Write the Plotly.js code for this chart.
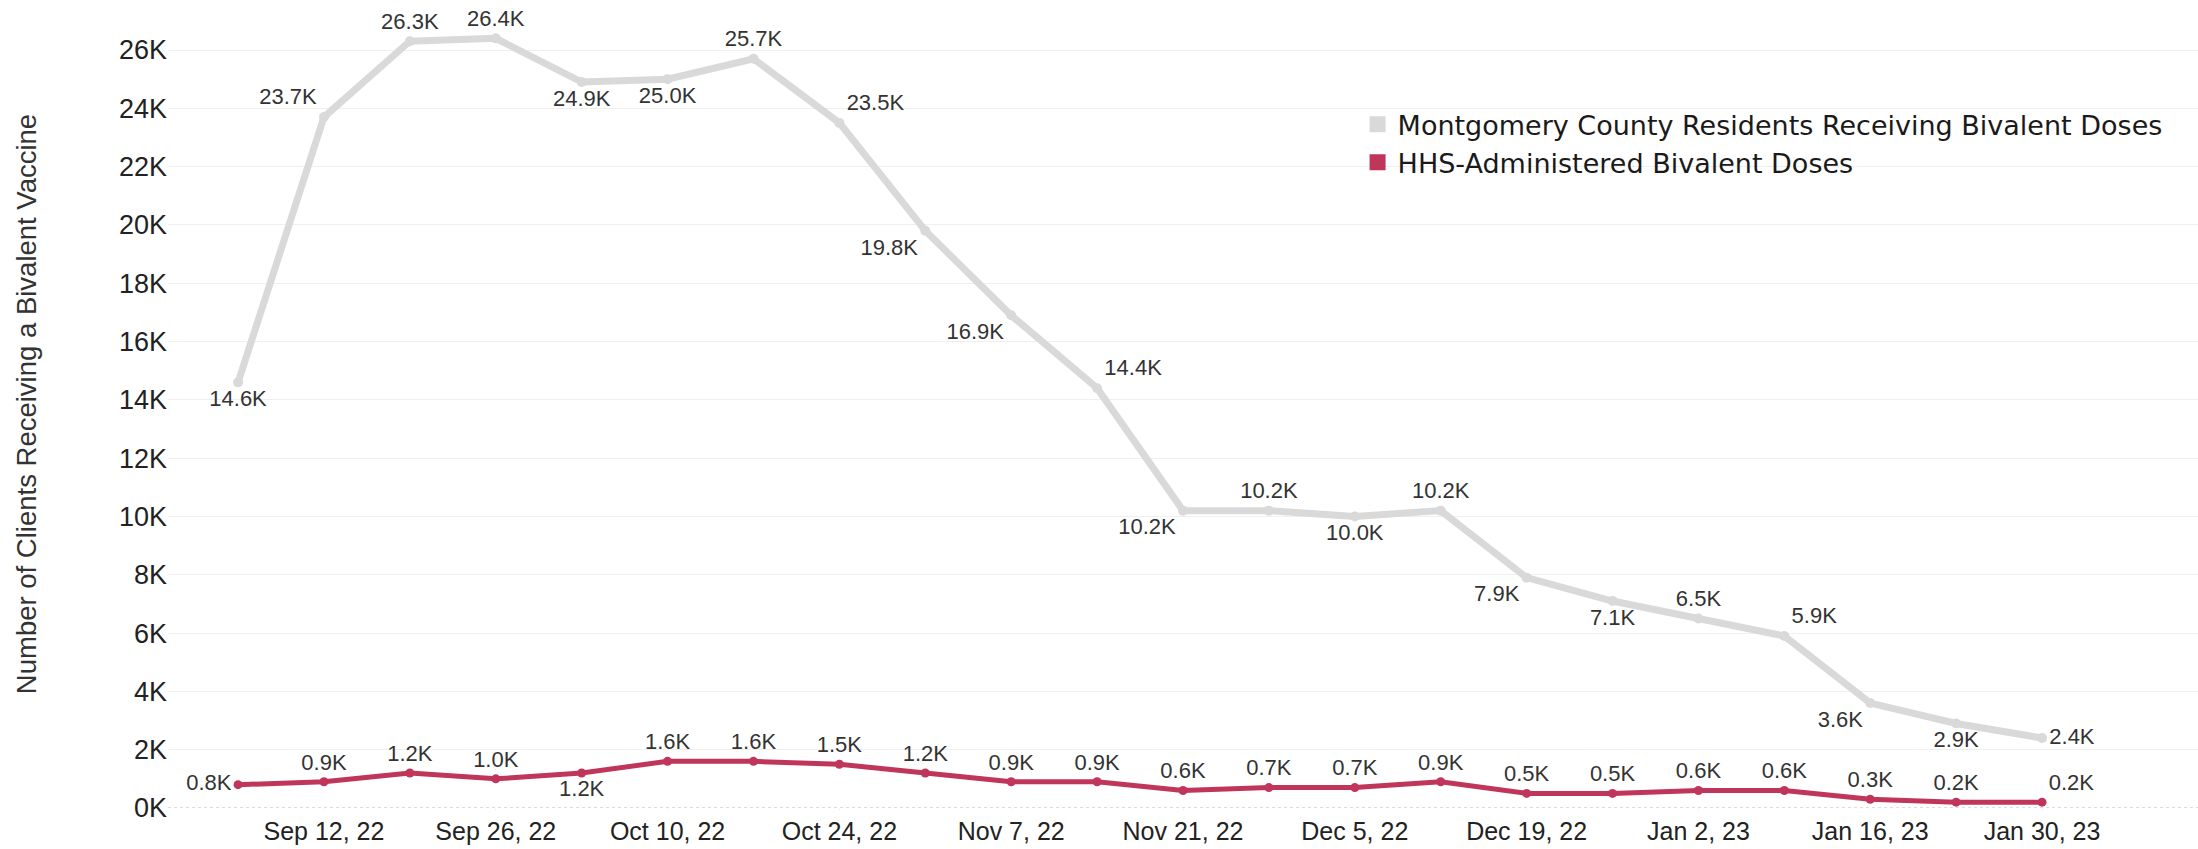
<!DOCTYPE html>
<html>
<head>
<meta charset="utf-8">
<script src="https://cdn.plot.ly/plotly-3.0.1.min.js"></script>
<style>
  html, body { margin: 0; padding: 0; background: #ffffff; }
  #chart { width: 2198px; height: 849px; }
</style>
</head>
<body>
<div id="chart"></div>
<script>
// ---- Data ----
const weekDates = [
  "2022-09-05", "2022-09-12", "2022-09-19", "2022-09-26", "2022-10-03", "2022-10-10",
  "2022-10-17", "2022-10-24", "2022-10-31", "2022-11-07", "2022-11-14", "2022-11-21",
  "2022-11-28", "2022-12-05", "2022-12-12", "2022-12-19", "2022-12-26", "2023-01-02",
  "2023-01-09", "2023-01-16", "2023-01-23", "2023-01-30"
];
const montgomeryResidents = [
  14600, 23700, 26300, 26400, 24900, 25000, 25700, 23500, 19800, 16900, 14400,
  10200, 10200, 10000, 10200, 7900, 7100, 6500, 5900, 3600, 2900, 2400
];
const hhsAdministered = [
  800, 900, 1200, 1000, 1200, 1600, 1600, 1500, 1200, 900, 900,
  600, 700, 700, 900, 500, 500, 600, 600, 300, 200, 200
];
const seriesNames = [
  "Montgomery County Residents Receiving Bivalent Doses",
  "HHS-Administered Bivalent Doses"
];
const yTickValues = [0, 2000, 4000, 6000, 8000, 10000, 12000, 14000, 16000, 18000, 20000, 22000, 24000, 26000];
const yTickLabels = ["0K", "2K", "4K", "6K", "8K", "10K", "12K", "14K", "16K", "18K", "20K", "22K", "24K", "26K"];
const yAxisTitle = "Number of Clients Receiving a Bivalent Vaccine";

// ---- Label placement (style) ----
const montLabelPos = [
  "bottom center", "top left", "top center", "top center", "bottom center", "bottom center",
  "top center", "top right", "bottom left", "bottom left", "top right", "bottom left",
  "top center", "bottom center", "top center", "bottom left", "bottom center", "top center",
  "top right", "bottom left", "bottom center", "middle right"
];
const hhsLabelPos = [
  "middle left", "top center", "top center", "top center", "bottom center", "top center",
  "top center", "top center", "top center", "top center", "top center", "top center",
  "top center", "top center", "top center", "top center", "top center", "top center",
  "top center", "top center", "top center", "top right"
];

const fmtK = v => (v / 1000).toFixed(1) + "K";
const FONT = "Liberation Sans, Arial, sans-serif";
const LEGEND_FONT = "DejaVu Sans, Liberation Sans, Arial, sans-serif";
const GRAY = "#d9d9d9";
const RED = "#c0365b";

const traces = [
  {
    x: weekDates, y: montgomeryResidents, type: "scatter", mode: "lines+markers+text",
    name: seriesNames[0], showlegend: false, cliponaxis: false,
    line: { color: GRAY, width: 7 }, marker: { color: GRAY, size: 10 },
    text: montgomeryResidents.map(fmtK), textposition: montLabelPos,
    textfont: { family: FONT, size: 22, color: "#333333" }, hoverinfo: "x+y"
  },
  {
    x: weekDates, y: hhsAdministered, type: "scatter", mode: "lines+markers+text",
    name: seriesNames[1], showlegend: false, cliponaxis: false,
    line: { color: RED, width: 5 }, marker: { color: RED, size: 9 },
    text: hhsAdministered.map(fmtK), textposition: hhsLabelPos,
    textfont: { family: FONT, size: 22, color: "#333333" }, hoverinfo: "x+y"
  },
  // legend entries (square swatches)
  {
    x: [null], y: [null], type: "scatter", mode: "markers", name: seriesNames[0],
    marker: { symbol: "square", size: 22, color: GRAY }, showlegend: true, hoverinfo: "skip"
  },
  {
    x: [null], y: [null], type: "scatter", mode: "markers", name: seriesNames[1],
    marker: { symbol: "square", size: 22, color: RED }, showlegend: true, hoverinfo: "skip"
  }
];

const layout = {
  width: 2198, height: 849,
  margin: { l: 168, r: 0, t: 0, b: 41 },
  paper_bgcolor: "#ffffff", plot_bgcolor: "#ffffff",
  font: { family: FONT, color: "#222222" },
  showlegend: true,
  legend: {
    x: 0.586, y: 0.876, xanchor: "left", yanchor: "top",
    bgcolor: "rgba(255,255,255,0)",
    font: { family: LEGEND_FONT, size: 27, color: "#1a1a1a" },
    itemclick: false, itemdoubleclick: false
  },
  xaxis: {
    type: "date",
    range: ["2022-08-30 07:00", "2023-02-11 17:00"],
    tick0: "2022-09-12", dtick: 14 * 86400000,
    tickformat: "%b %-d, %y",
    showgrid: false, zeroline: false, showline: false,
    ticks: "outside", ticklen: 1, tickcolor: "#e4e4e4",
    tickfont: { family: FONT, size: 25, color: "#222222" }
  },
  yaxis: {
    range: [0, 27715],
    tickvals: yTickValues, ticktext: yTickLabels,
    showgrid: true, gridcolor: "#efefef", gridwidth: 1,
    zeroline: false, showline: false, ticks: "",
    tickfont: { family: FONT, size: 27, color: "#222222" },
    title: { text: yAxisTitle, font: { family: FONT, size: 27.5, color: "#333333" }, standoff: 74 }
  },
  shapes: [
    { type: "line", xref: "paper", yref: "y", x0: 0, x1: 1, y0: 0, y1: 0,
      line: { color: "#bbbbbb", width: 1, dash: "dot" }, layer: "below" }
  ]
};

Plotly.newPlot("chart", traces, layout, { displayModeBar: false, staticPlot: true });
</script>
</body>
</html>
